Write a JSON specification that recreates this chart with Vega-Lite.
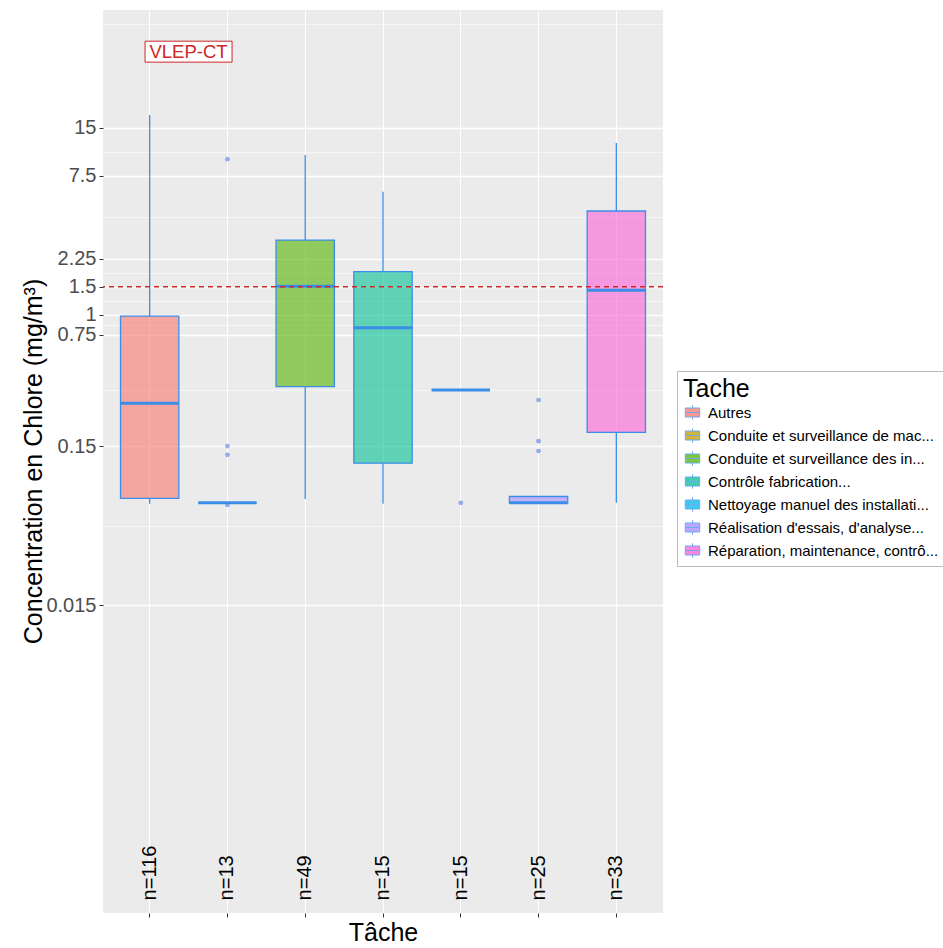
{
  "$schema": "https://vega.github.io/schema/vega-lite/v6.json",
  "width": 560,
  "height": 903,
  "autosize": {"type": "none"},
  "padding": {"left": 103, "top": 10, "right": 280, "bottom": 35},
  "background": "white",
  "config": {
    "font": "Liberation Sans",
    "view": {"fill": "#EBEBEB", "stroke": null},
    "axis": {
      "domain": false,
      "gridColor": "white",
      "tickColor": "#333333",
      "labelColor": "#4D4D4D",
      "titleColor": "black",
      "titleFontWeight": "normal",
      "titleFontSize": 25,
      "labelFontSize": 20,
      "tickSize": 4
    }
  },
  "datasets": {
    "boxes": [
      {"tache": "Autres", "n": "n=116", "lower": 0.065, "q1": 0.0704, "median": 0.279, "q3": 0.983, "upper": 18.0},
      {"tache": "Conduite et surveillance de mac...", "n": "n=13", "lower": 0.066, "q1": 0.066, "median": 0.066, "q3": 0.066, "upper": 0.066},
      {"tache": "Conduite et surveillance des in...", "n": "n=49", "lower": 0.0698, "q1": 0.354, "median": 1.51, "q3": 2.95, "upper": 10.1},
      {"tache": "Contrôle fabrication...", "n": "n=15", "lower": 0.065, "q1": 0.117, "median": 0.83, "q3": 1.87, "upper": 5.93},
      {"tache": "Nettoyage manuel des installati...", "n": "n=15", "lower": 0.337, "q1": 0.337, "median": 0.337, "q3": 0.337, "upper": 0.337},
      {"tache": "Réalisation d'essais, d'analyse...", "n": "n=25", "lower": 0.066, "q1": 0.066, "median": 0.066, "q3": 0.0723, "upper": 0.0723},
      {"tache": "Réparation, maintenance, contrô...", "n": "n=33", "lower": 0.066, "q1": 0.183, "median": 1.43, "q3": 4.49, "upper": 12.0}
    ],
    "outliers": [
      {"tache": "Conduite et surveillance de mac...", "value": 9.5},
      {"tache": "Conduite et surveillance de mac...", "value": 0.15},
      {"tache": "Conduite et surveillance de mac...", "value": 0.132},
      {"tache": "Conduite et surveillance de mac...", "value": 0.064},
      {"tache": "Nettoyage manuel des installati...", "value": 0.066},
      {"tache": "Réalisation d'essais, d'analyse...", "value": 0.292},
      {"tache": "Réalisation d'essais, d'analyse...", "value": 0.161},
      {"tache": "Réalisation d'essais, d'analyse...", "value": 0.1396}
    ],
    "refline": [{"vlep": 1.5}],
    "annot": [{"label": "VLEP-CT", "pos": 1.5, "value": 45}]
  },
  "layer": [
    {
      "layer": [
        {
          "data": {"name": "boxes"},
          "mark": {"type": "rule", "color": "#3B8EE8", "strokeWidth": 1.3},
          "encoding": {
            "x": {
              "field": "tache", "type": "nominal",
              "scale": {
                "type": "band", "paddingInner": 0.25, "paddingOuter": 0.225,
                "domain": ["Autres", "Conduite et surveillance de mac...", "Conduite et surveillance des in...", "Contrôle fabrication...", "Nettoyage manuel des installati...", "Réalisation d'essais, d'analyse...", "Réparation, maintenance, contrô..."]
              },
              "axis": {
                "title": "Tâche", "labels": false, "ticks": true, "grid": true,
                "gridWidth": 1.1, "titleY": 19, "titleBaseline": "middle", "titleX": 280, "titleAlign": "center"
              }
            },
            "y": {
              "field": "lower", "type": "quantitative",
              "title": "Concentration en Chlore (mg/m³)",
              "scale": {"type": "log", "domain": [0.000175, 82.2], "nice": false, "zero": false},
              "axis": {
                "values": [15, 7.5, 2.25, 1.5, 1, 0.75, 0.15, 0.015, 67.08, 10.607, 4.108, 1.837, 1.225, 0.866, 0.3354, 0.04743],
                "format": "~g",
                "labelOverlap": false,
                "labelExpr": "indexof([15, 7.5, 2.25, 1.5, 1, 0.75, 0.15, 0.015], datum.value) >= 0 ? datum.label : ''",
                "gridWidth": {"condition": {"test": "indexof([15, 7.5, 2.25, 1.5, 1, 0.75, 0.15, 0.015], datum.value) >= 0", "value": 1.3}, "value": 0.6},
                "tickOpacity": {"condition": {"test": "indexof([15, 7.5, 2.25, 1.5, 1, 0.75, 0.15, 0.015], datum.value) >= 0", "value": 1}, "value": 0},
                "labelPadding": 3,
                "titleAngle": 270, "titleX": -70, "titleY": 451, "titleAlign": "center", "titleBaseline": "middle"
              }
            },
            "y2": {"field": "q1"}
          }
        },
        {
          "data": {"name": "boxes"},
          "mark": {"type": "rule", "color": "#3B8EE8", "strokeWidth": 1.3},
          "encoding": {
            "x": {"field": "tache", "type": "nominal"},
            "y": {"field": "q3", "type": "quantitative", "title": "Concentration en Chlore (mg/m³)"},
            "y2": {"field": "upper"}
          }
        },
        {
          "data": {"name": "boxes"},
          "mark": {"type": "bar", "stroke": "#3B8EE8", "strokeWidth": 1.3, "fillOpacity": 0.6},
          "encoding": {
            "x": {"field": "tache", "type": "nominal"},
            "y": {"field": "q1", "type": "quantitative", "title": "Concentration en Chlore (mg/m³)"},
            "y2": {"field": "q3"},
            "fill": {
              "field": "tache", "type": "nominal",
              "scale": {"range": ["#F8766D", "#C49A00", "#53B400", "#00C094", "#00B6EB", "#A58AFF", "#FB61D7"]},
              "legend": {
                "title": "Tache",
                "orient": "none", "legendX": 574, "legendY": 361,
                "titleFontSize": 25, "titleFontWeight": "normal", "titleColor": "black", "titlePadding": 1,
                "labelFontSize": 15, "labelColor": "black", "labelLimit": 0, "labelOffset": 6,
                "symbolType": "M-0.8,-0.5H0.8V0.5H-0.8Z M-0.8,0H0.8 M0,-0.5V-0.8 M0,0.5V0.8",
                "symbolSize": 324, "symbolStrokeColor": "#3B8EE8", "symbolStrokeWidth": 1, "symbolOpacity": 0.75,
                "rowPadding": 4, "padding": 6,
                "strokeColor": "#BBBBBB", "fillColor": "white"
              }
            }
          }
        },
        {
          "data": {"name": "boxes"},
          "mark": {"type": "tick", "color": "#3B8EE8", "thickness": 3, "opacity": 1},
          "encoding": {
            "x": {"field": "tache", "type": "nominal"},
            "y": {"field": "median", "type": "quantitative", "title": "Concentration en Chlore (mg/m³)"}
          }
        },
        {
          "data": {"name": "outliers"},
          "mark": {"type": "point", "filled": true, "color": "#4C7FE6", "opacity": 0.6, "size": 22},
          "encoding": {
            "x": {"field": "tache", "type": "nominal"},
            "y": {"field": "value", "type": "quantitative", "title": "Concentration en Chlore (mg/m³)"}
          }
        },
        {
          "data": {"name": "boxes"},
          "mark": {"type": "text", "angle": 270, "align": "left", "baseline": "middle", "fontSize": 20, "color": "black"},
          "encoding": {
            "x": {"field": "tache", "type": "nominal"},
            "y": {"datum": 0.00021, "type": "quantitative"},
            "text": {"field": "n"}
          }
        },
        {
          "data": {"name": "refline"},
          "mark": {"type": "rule", "color": "#CD2626", "strokeWidth": 1.5, "strokeDash": [5, 4]},
          "encoding": {
            "y": {"field": "vlep", "type": "quantitative", "title": "Concentration en Chlore (mg/m³)"}
          }
        }
      ]
    },
    {
      "data": {"name": "annot"},
      "layer": [
        {
          "mark": {"type": "point", "shape": "M-1,-0.241H1V0.241H-1Z", "size": 7569, "filled": true, "fill": "white", "stroke": "#CD2626", "strokeWidth": 1, "opacity": 1},
          "encoding": {
            "x": {"field": "pos", "type": "quantitative", "scale": {"domain": [0.4, 7.6], "nice": false, "zero": false}, "axis": null},
            "y": {"field": "value", "type": "quantitative", "title": "Concentration en Chlore (mg/m³)"}
          }
        },
        {
          "mark": {"type": "text", "fontSize": 18.5, "color": "#CD2626", "align": "center", "baseline": "middle"},
          "encoding": {
            "x": {"field": "pos", "type": "quantitative", "axis": null},
            "y": {"field": "value", "type": "quantitative", "title": "Concentration en Chlore (mg/m³)"},
            "text": {"field": "label"}
          }
        }
      ]
    }
  ],
  "resolve": {"scale": {"x": "independent"}, "axis": {"x": "independent"}}
}
